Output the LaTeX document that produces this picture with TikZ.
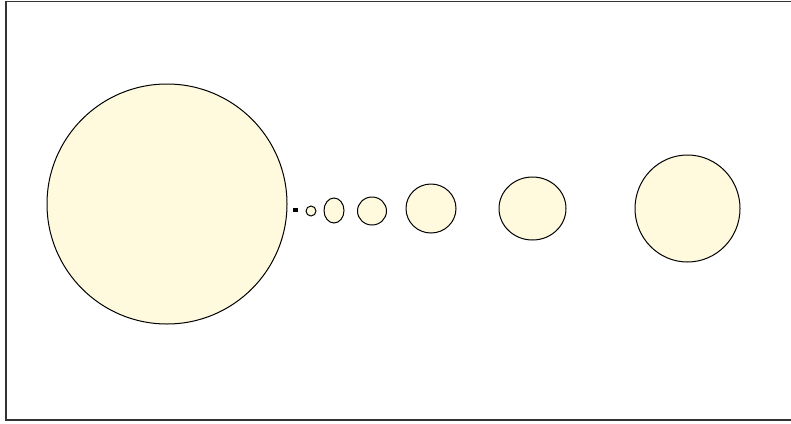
\documentclass[tikz,border=0pt]{standalone}
\usetikzlibrary{shapes.geometric}
\definecolor{bodyfill}{RGB}{255,250,222}
\tikzset{body/.style={ellipse,draw=black,fill=bodyfill,line width=1pt,inner sep=0pt},
frame/.style={draw=black!80,line width=1.3pt}}
\begin{document}
\begin{tikzpicture}[x=1pt,y=-1pt]
\useasboundingbox (0,0) rectangle (791,423);
\draw[frame] (6,1.5) -- (791.5,1.5) -- (791.5,420) -- (6,420) -- cycle;
\node[body,minimum width=240,minimum height=240] (sun) at (167,204) {};
\node[fill=black,inner sep=0pt,minimum size=4.5] (tiny) at (295.5,210) {};
\node[body,minimum width=10,minimum height=10] (small) at (311,211) {};
\node[body,minimum width=20,minimum height=25] (oval) at (334,210.5) {};
\node[body,minimum width=29,minimum height=28] (mid) at (372,211) {};
\node[body,minimum width=50,minimum height=49] (big) at (431,208.5) {};
\node[body,minimum width=67,minimum height=63] (bigger) at (532.5,208.5) {};
\node[body,minimum width=105,minimum height=107] (biggest) at (687.5,208.5) {};
\end{tikzpicture}
\end{document}
